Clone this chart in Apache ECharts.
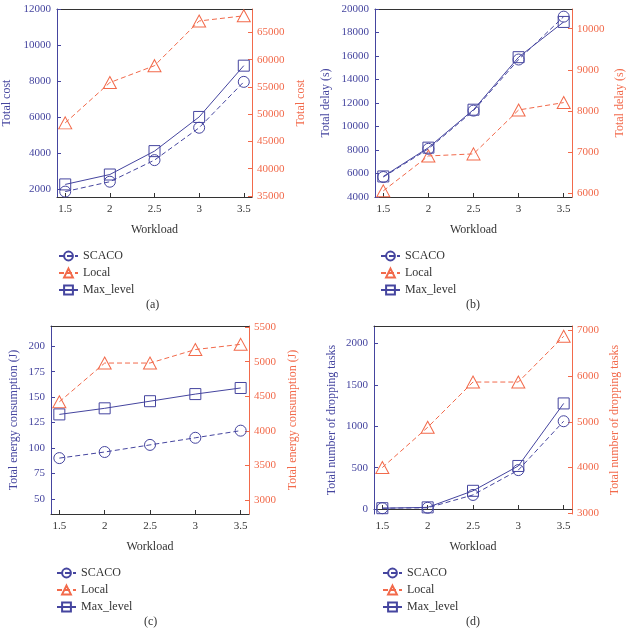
<!DOCTYPE html>
<html><head><meta charset="utf-8">
<script src="https://cdn.jsdelivr.net/npm/echarts@6/dist/echarts.min.js"></script>
<style>html,body{margin:0;padding:0;background:#fff}#c{width:635px;height:629px}</style>
</head><body><div id="c"></div>
<script>
const workload = [1.5, 2, 2.5, 3, 3.5];
const xTickLabels = [1.5, 2, 2.5, 3, 3.5];
const seriesNames = ['SCACO', 'Local', 'Max_level'];

const costScaco = [1850, 2400, 3600, 5400, 7950];
const costMax = [2250, 2800, 4100, 6000, 8850];
const costLocal = [48400, 55800, 58900, 67100, 68050];
const costLeftTicks = [2000, 4000, 6000, 8000, 10000, 12000];
const costRightTicks = [35000, 40000, 45000, 50000, 55000, 60000, 65000];

const delayScaco = [5700, 8100, 11350, 15700, 19350];
const delayMax = [5750, 8200, 11430, 15900, 18900];
const delayLocal = [6050, 6900, 6950, 8020, 8200];
const delayLeftTicks = [4000, 6000, 8000, 10000, 12000, 14000, 16000, 18000, 20000];
const delayRightTicks = [6000, 7000, 8000, 9000, 10000];

const energyScaco = [90, 96, 103, 110, 117];
const energyMax = [133, 139, 146, 153, 159];
const energyLocal = [4420, 4980, 4980, 5175, 5250];
const energyLeftTicks = [50, 75, 100, 125, 150, 175, 200];
const energyRightTicks = [3000, 3500, 4000, 4500, 5000, 5500];

const dropScaco = [10, 15, 170, 470, 1060];
const dropMax = [10, 20, 220, 520, 1275];
const dropLocal = [4000, 4880, 5870, 5870, 6870];
const dropLeftTicks = [0, 500, 1000, 1500, 2000];
const dropRightTicks = [3000, 4000, 5000, 6000, 7000];

const BLUE = '#45459f';
const ORANGE = '#f26a4b';
const DARK = '#333';
const FONT = '"Liberation Serif", "DejaVu Serif", serif';
const plain = v => String(v);

const panels = [
  {grid:{left:55, top:9, width:197, height:188}, name:'Total cost', lr:[1550,12000], rr:[34800,69300], lt:costLeftTicks, rt:costRightTicks, s:costScaco, m:costMax, l:costLocal, lg:44, rg:43, legend:{left:53, top:245}, cap:{t:'(a)', x:154, y:306}},
  {grid:{left:375, top:9, width:197, height:188}, name:'Total delay (s)', lr:[4000,20000], rr:[5900,10480], lt:delayLeftTicks, rt:delayRightTicks, s:delayScaco, m:delayMax, l:delayLocal, lg:43, rg:42, legend:{left:375, top:245}, cap:{t:'(b)', x:474, y:306}},
  {grid:{left:51, top:326, width:198, height:188}, name:'Total energy consumption (J)', lr:[35,220], rr:[2800,5515], lt:energyLeftTicks, rt:energyRightTicks, s:energyScaco, m:energyMax, l:energyLocal, lg:31, rg:38, legend:{left:51, top:562}, cap:{t:'(c)', x:152, y:623}},
  {grid:{left:374, top:326, width:198, height:188}, name:'Total number of dropping tasks', lr:[-60,2210], rr:[2985,7095], lt:dropLeftTicks, rt:dropRightTicks, s:dropScaco, m:dropMax, l:dropLocal, lg:36, rg:37, legend:{left:377, top:562}, cap:{t:'(d)', x:474, y:623}}
];

const grid = [], xAxis = [], yAxis = [], series = [], legend = [], graphic = [];
const pairs = arr => workload.map((w, i) => [w, arr[i]]);

panels.forEach((p, i) => {
  grid.push(p.grid);
  xAxis.push({
    type:'value', gridIndex:i, min:1.408, max:3.592, position:'bottom',
    name:'Workload', nameLocation:'middle', nameGap:27,
    nameTextStyle:{fontFamily:FONT, fontSize:12, color:DARK},
    axisLine:{lineStyle:{color:DARK, width:1}},
    axisTick:{inside:true, length:4, customValues:xTickLabels, lineStyle:{color:DARK}},
    axisLabel:{customValues:xTickLabels, formatter:plain, fontFamily:FONT, fontSize:11, color:DARK, margin:7},
    splitLine:{show:false}
  });
  xAxis.push({
    type:'value', gridIndex:i, min:1.408, max:3.592, position:'top',
    axisLine:{show:true, lineStyle:{color:DARK, width:1}},
    axisTick:{show:false}, axisLabel:{show:false}, splitLine:{show:false}
  });
  yAxis.push({
    type:'value', gridIndex:i, min:p.lr[0], max:p.lr[1], position:'left',
    name:p.name, nameLocation:'middle', nameGap:p.lg,
    nameTextStyle:{fontFamily:FONT, fontSize:12, color:BLUE},
    axisLine:{show:true, lineStyle:{color:BLUE, width:1}},
    axisTick:{show:true, inside:true, length:4, customValues:p.lt, lineStyle:{color:BLUE}},
    axisLabel:{customValues:p.lt, formatter:plain, fontFamily:FONT, fontSize:11, color:BLUE, margin:6},
    splitLine:{show:false}
  });
  yAxis.push({
    type:'value', gridIndex:i, min:p.rr[0], max:p.rr[1], position:'right',
    name:p.name, nameLocation:'middle', nameGap:p.rg, nameRotate:90,
    nameTextStyle:{fontFamily:FONT, fontSize:12, color:ORANGE},
    axisLine:{show:true, lineStyle:{color:ORANGE, width:1}},
    axisTick:{show:true, inside:true, length:4, customValues:p.rt, lineStyle:{color:ORANGE}},
    axisLabel:{customValues:p.rt, formatter:plain, fontFamily:FONT, fontSize:11, color:ORANGE, margin:5},
    splitLine:{show:false}
  });
  const xi = i * 2, yl = i * 2, yr = i * 2 + 1;
  series.push({
    name:seriesNames[0], type:'line', xAxisIndex:xi, yAxisIndex:yl, data:pairs(p.s),
    symbol:'circle', symbolSize:11, showAllSymbol:true,
    lineStyle:{color:BLUE, width:1, type:[5,3]},
    itemStyle:{color:'rgba(0,0,0,0)', borderColor:BLUE, borderWidth:1}, z:3
  });
  series.push({
    name:seriesNames[1], type:'line', xAxisIndex:xi, yAxisIndex:yr, data:pairs(p.l),
    symbol:'triangle', symbolSize:[13,12],
    lineStyle:{color:ORANGE, width:1, type:[5,3]},
    itemStyle:{color:'rgba(0,0,0,0)', borderColor:ORANGE, borderWidth:1}, z:3
  });
  series.push({
    name:seriesNames[2], type:'line', xAxisIndex:xi, yAxisIndex:yl, data:pairs(p.m),
    symbol:'rect', symbolSize:11,
    lineStyle:{color:BLUE, width:1, type:'solid'},
    itemStyle:{color:'rgba(0,0,0,0)', borderColor:BLUE, borderWidth:1}, z:3
  });
  legend.push({
    data:seriesNames, orient:'vertical', left:p.legend.left, top:p.legend.top,
    itemWidth:19, itemHeight:11, itemGap:5, selectedMode:false,
    textStyle:{fontFamily:FONT, fontSize:12, color:DARK}
  });
  graphic.push({
    type:'text', left:p.cap.x - 8, top:p.cap.y - 7,
    style:{text:p.cap.t, font:'12px ' + FONT, fill:DARK}
  });
});

const chart = echarts.init(document.getElementById('c'), null, {renderer:'canvas'});
chart.setOption({
  animation:false, backgroundColor:'#fff',
  grid, xAxis, yAxis, series, legend, graphic
});
</script></body></html>
